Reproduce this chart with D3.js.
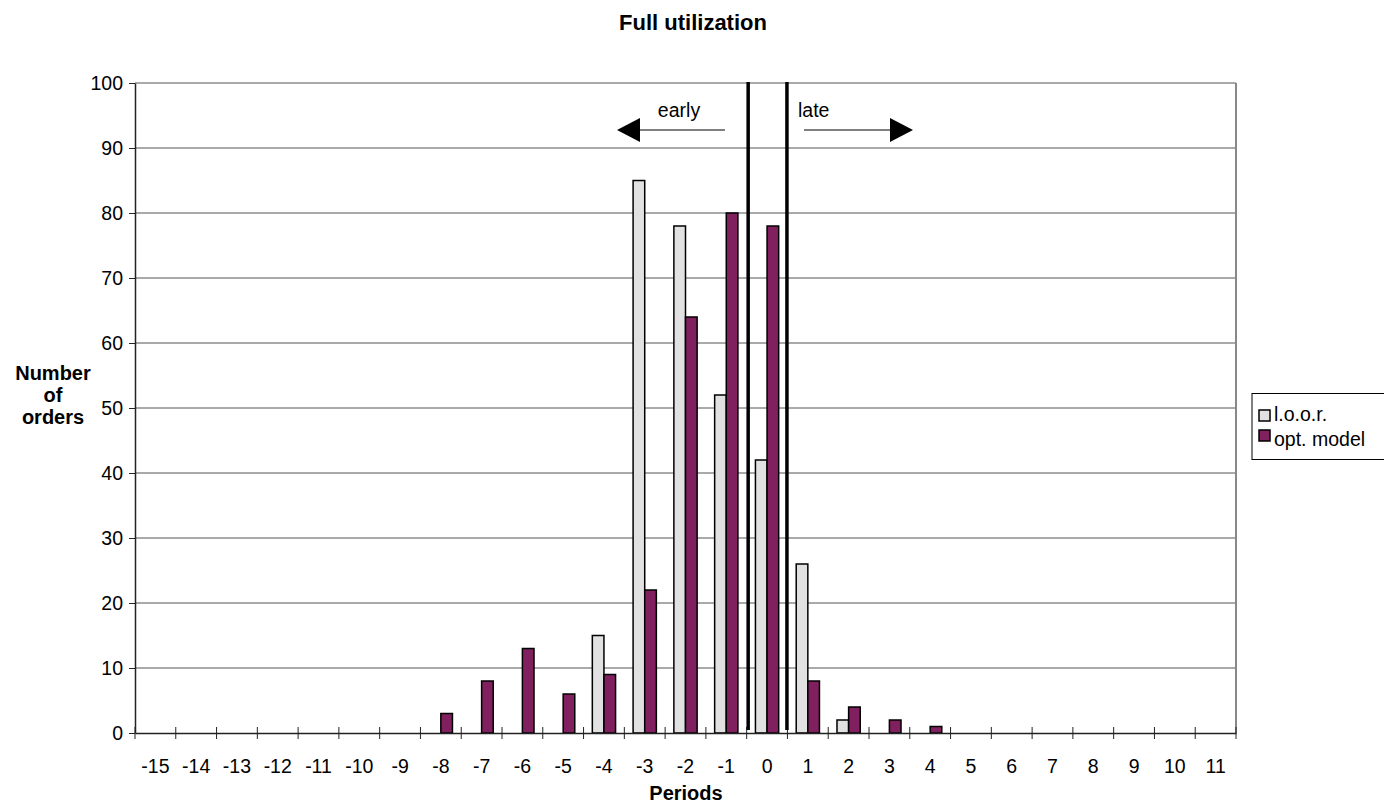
<!DOCTYPE html>
<html>
<head>
<meta charset="utf-8">
<script src="https://cdn.jsdelivr.net/npm/d3@7"></script>
<style>
  body { margin: 0; background: #fff; }
  text { font-family: "Liberation Sans", Arial, sans-serif; fill: #000; }
</style>
</head>
<body>
<div class="chart"></div>
<script>
// chart data
var periods = [-15, -14, -13, -12, -11, -10, -9, -8, -7, -6, -5, -4, -3, -2, -1, 0, 1, 2, 3, 4, 5, 6, 7, 8, 9, 10, 11];
var looR = [0, 0, 0, 0, 0, 0, 0, 0, 0, 0, 0, 15, 85, 78, 52, 42, 26, 2, 0, 0, 0, 0, 0, 0, 0, 0, 0];
var optModel = [0, 0, 0, 0, 0, 0, 0, 3, 8, 13, 6, 9, 22, 64, 80, 78, 8, 4, 2, 1, 0, 0, 0, 0, 0, 0, 0];
var seriesNames = ["l.o.o.r.", "opt. model"];
var yTicks = [0, 10, 20, 30, 40, 50, 60, 70, 80, 90, 100];

var svgWidth = 1384, svgHeight = 805;
var margin = { top: 83, left: 135, right: 148, bottom: 72 };
var width = svgWidth - margin.left - margin.right;
var height = svgHeight - margin.top - margin.bottom;

var svg = d3.select(".chart").append("svg")
  .attr("width", svgWidth)
  .attr("height", svgHeight);

var chartGroup = svg.append("g")
  .attr("transform", `translate(${margin.left}, ${margin.top})`);

// scales
var xScale = d3.scaleBand()
  .domain(periods)
  .range([0, width]);

var xSub = d3.scaleBand()
  .domain(seriesNames)
  .range([xScale.bandwidth() * 0.215, xScale.bandwidth() * 0.785]);

var yScale = d3.scaleLinear()
  .domain([0, 100])
  .range([height, 0]);

// gridlines
chartGroup.selectAll(".grid")
  .data(yTicks.slice(1))
  .enter()
  .append("line")
  .attr("x1", 0)
  .attr("x2", width)
  .attr("y1", d => yScale(d))
  .attr("y2", d => yScale(d))
  .attr("stroke", "#555")
  .attr("stroke-width", 1);

// right border of plot area
chartGroup.append("line")
  .attr("x1", width).attr("x2", width)
  .attr("y1", 0).attr("y2", height)
  .attr("stroke", "#888").attr("stroke-width", 2);

// bars
var colors = { "l.o.o.r.": "#e1e1e1", "opt. model": "#80205f" };
var barData = [];
periods.forEach(function (p, i) {
  barData.push({ period: p, series: seriesNames[0], value: looR[i] });
  barData.push({ period: p, series: seriesNames[1], value: optModel[i] });
});

chartGroup.selectAll(".bar")
  .data(barData.filter(d => d.value > 0))
  .enter()
  .append("rect")
  .attr("x", d => xScale(d.period) + xSub(d.series))
  .attr("y", d => yScale(d.value))
  .attr("width", xSub.bandwidth())
  .attr("height", d => height - yScale(d.value))
  .attr("fill", d => colors[d.series])
  .attr("stroke", "#000")
  .attr("stroke-width", 1.5);

// axes
var yAxis = d3.axisLeft(yScale).tickValues(yTicks).tickSize(0).tickPadding(12);
var yG = chartGroup.append("g").call(yAxis);
yG.select(".domain").attr("stroke", "#222").attr("stroke-width", 1.5);
yG.selectAll("text").attr("font-size", "19.5px").attr("font-family", "Liberation Sans, Arial, sans-serif");
yG.selectAll(".tick").append("line")
  .attr("x1", -6).attr("x2", 0)
  .attr("stroke", "#222");

var xAxis = d3.axisBottom(xScale).tickSize(0).tickPadding(0);
var xG = chartGroup.append("g")
  .attr("transform", `translate(0, ${height})`)
  .call(xAxis);
xG.select(".domain").attr("stroke", "#222").attr("stroke-width", 1.5);
xG.selectAll("text")
  .attr("font-size", "19.5px")
  .attr("font-family", "Liberation Sans, Arial, sans-serif")
  .attr("dy", null)
  .attr("y", 40);

// cross ticks on category boundaries
var boundaries = periods.map(p => xScale(p)).concat([width]);
xG.selectAll(".btick")
  .data(boundaries)
  .enter()
  .append("line")
  .attr("x1", d => d).attr("x2", d => d)
  .attr("y1", -6).attr("y2", 6)
  .attr("stroke", "#222");

// early / late separators
var sepX = [xScale(0) + 1.5, xScale(0) + xScale.bandwidth() - 0.5];
chartGroup.selectAll(".sep")
  .data(sepX)
  .enter()
  .append("line")
  .attr("x1", d => d).attr("x2", d => d)
  .attr("y1", -1).attr("y2", height - 3)
  .attr("stroke", "#000")
  .attr("stroke-width", 3.5);

// arrows
var arrowY = 130 - margin.top;
function arrow(x1, x2, dir) {
  chartGroup.append("line")
    .attr("x1", x1).attr("x2", x2)
    .attr("y1", arrowY).attr("y2", arrowY)
    .attr("stroke", "#000").attr("stroke-width", 1);
  var tip = x2 + dir * 23;
  chartGroup.append("path")
    .attr("d", `M${x2},${arrowY - 12}L${tip},${arrowY}L${x2},${arrowY + 12}Z`)
    .attr("fill", "#000");
}
arrow(725 - margin.left, 640 - margin.left, -1);
arrow(804 - margin.left, 890 - margin.left, 1);

chartGroup.append("text")
  .attr("x", 679 - margin.left).attr("y", 117 - margin.top)
  .attr("text-anchor", "middle").attr("font-size", "19.5px")
  .text("early");
chartGroup.append("text")
  .attr("x", 798 - margin.left).attr("y", 117 - margin.top)
  .attr("font-size", "19.5px")
  .text("late");

// title and axis labels
svg.append("text")
  .attr("x", 693).attr("y", 30)
  .attr("text-anchor", "middle")
  .attr("font-size", "22px").attr("font-weight", "bold")
  .text("Full utilization");

svg.append("text")
  .attr("x", 686).attr("y", 800)
  .attr("text-anchor", "middle")
  .attr("font-size", "20px").attr("font-weight", "bold")
  .text("Periods");

var ylabel = svg.append("text")
  .attr("text-anchor", "middle")
  .attr("font-size", "20px").attr("font-weight", "bold");
["Number", "of", "orders"].forEach(function (t, i) {
  ylabel.append("tspan").attr("x", 53).attr("y", 380 + i * 22).text(t);
});

// legend
var legend = svg.append("g");
legend.append("rect")
  .attr("x", 1252).attr("y", 393.5)
  .attr("width", 150).attr("height", 66)
  .attr("fill", "#fff").attr("stroke", "#000").attr("stroke-width", 1);
seriesNames.forEach(function (s, i) {
  legend.append("rect")
    .attr("x", 1259).attr("y", 410 + i * 20)
    .attr("width", 11).attr("height", 11)
    .attr("fill", colors[s]).attr("stroke", "#000").attr("stroke-width", 1.5);
  legend.append("text")
    .attr("x", 1274).attr("y", 421 + i * 25)
    .attr("font-size", "19.5px")
    .text(s);
});
</script>
</body>
</html>
